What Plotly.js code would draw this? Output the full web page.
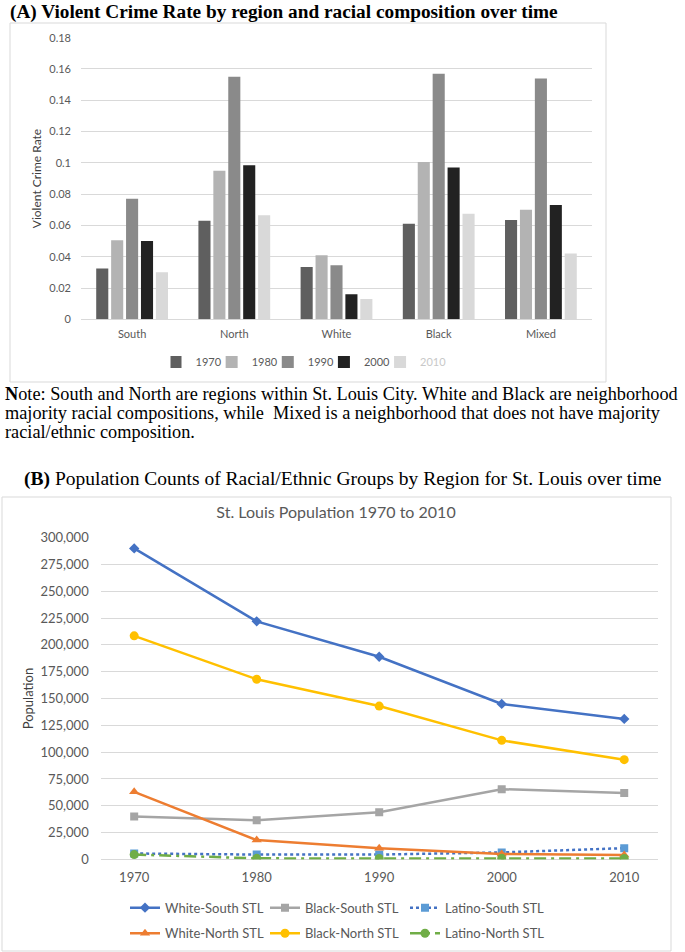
<!DOCTYPE html>
<html>
<head>
<meta charset="utf-8">
<script src="https://cdn.plot.ly/plotly-3.0.1.min.js"></script>
<style>html,body{margin:0;padding:0;background:#fff;}#chart{width:685px;height:952px;}</style>
</head>
<body>
<div id="chart"></div>
<script>
// ---- Panel A data ----
const regions = ['South', 'North', 'White', 'Black', 'Mixed'];
const barYears = ['1970', '1980', '1990', '2000', '2010'];
const rate1970 = [0.0325, 0.063, 0.0335, 0.061, 0.0635];
const rate1980 = [0.0505, 0.095, 0.041, 0.1005, 0.070];
const rate1990 = [0.077, 0.155, 0.0345, 0.157, 0.154];
const rate2000 = [0.050, 0.0985, 0.016, 0.097, 0.073];
const rate2010 = [0.030, 0.0665, 0.013, 0.0675, 0.042];

// ---- Panel B data ----
const censusYears = ['1970', '1980', '1990', '2000', '2010'];
const whiteSouth = [290000, 222000, 189000, 145000, 131000];
const blackSouth = [40000, 36500, 44000, 65500, 62000];
const latinoSouth = [5500, 4500, 4500, 6500, 10500];
const whiteNorth = [63000, 18000, 10500, 5000, 4000];
const blackNorth = [208500, 168000, 143000, 111000, 93000];
const latinoNorth = [4500, 1000, 800, 1000, 800];

const W = 685, H = 952;
const px = x => x / W;
const py = y => 1 - y / H;

const barColors = ['#5f5f5f', '#b3b3b3', '#8a8a8a', '#222222', '#d9d9d9'];
const rateSeries = [rate1970, rate1980, rate1990, rate2000, rate2010];

const traces = [];
rateSeries.forEach((vals, i) => {
  traces.push({
    type: 'bar', x: regions, y: vals,
    name: barYears[i] === '2010' ? '<span style="color:#c8c8c8">2010</span>' : barYears[i],
    marker: {color: barColors[i]},
    xaxis: 'x', yaxis: 'y', legend: 'legend'
  });
});

const lineDefs = [
  {name: 'White-South STL', y: whiteSouth, color: '#4472C4', mcolor: '#4472C4', symbol: 'diamond', size: 8, dash: 'solid', legend: 'legend2'},
  {name: 'Black-South STL', y: blackSouth, color: '#A5A5A5', mcolor: '#A5A5A5', symbol: 'square', size: 8, dash: 'solid', legend: 'legend2'},
  {name: 'Latino-South STL', y: latinoSouth, color: '#4472C4', mcolor: '#5B9BD5', symbol: 'square', size: 8, dash: 'dot', legend: 'legend2'},
  {name: 'White-North STL', y: whiteNorth, color: '#ED7D31', mcolor: '#ED7D31', symbol: 'triangle-up', size: 9, dash: 'solid', legend: 'legend3'},
  {name: 'Black-North STL', y: blackNorth, color: '#FFC000', mcolor: '#FFC000', symbol: 'circle', size: 9, dash: 'solid', legend: 'legend3'},
  {name: 'Latino-North STL', y: latinoNorth, color: '#70AD47', mcolor: '#70AD47', symbol: 'circle', size: 9, dash: '12px,5px,3px,5px', legend: 'legend3'}
];
lineDefs.forEach(d => {
  traces.push({
    type: 'scatter', mode: 'lines+markers', x: censusYears, y: d.y, name: d.name,
    line: {color: d.color, width: 2.5, dash: d.dash},
    marker: {color: d.mcolor, symbol: d.symbol, size: d.size},
    xaxis: 'x2', yaxis: 'y2', legend: d.legend
  });
});

const axisFont = {family: 'Lato, sans-serif', size: 11, color: '#595959'};
const axisFontB = {family: 'Lato, sans-serif', size: 13, color: '#595959'};
const serif = 'Liberation Serif, Times New Roman, serif';

const layout = {
  width: W, height: H,
  margin: {l: 0, r: 0, t: 0, b: 0},
  paper_bgcolor: '#ffffff', plot_bgcolor: 'rgba(0,0,0,0)',
  barmode: 'group', bargap: 0.27, bargroupgap: 0.19,
  showlegend: true,
  title: {
    text: 'St. Louis Population 1970 to 2010',
    x: px(336), xanchor: 'center', xref: 'paper',
    y: py(512), yanchor: 'middle', yref: 'paper',
    font: {family: 'Lato, sans-serif', size: 16, color: '#595959'}
  },
  xaxis: {
    domain: [px(81), px(592)], anchor: 'y', type: 'category',
    showgrid: false, zeroline: false, showline: false, ticks: '',
    tickfont: axisFont, ticklabelstandoff: 7, fixedrange: true
  },
  yaxis: {
    domain: [py(319.3), py(37.7)], anchor: 'x', range: [0, 0.18], dtick: 0.02,
    showgrid: true, gridcolor: '#d9d9d9', gridwidth: 1,
    zeroline: true, zerolinecolor: '#d9d9d9', zerolinewidth: 1,
    showline: false, ticks: '', tickfont: axisFont, ticklabelstandoff: 9,
    title: {text: 'Violent Crime Rate', font: {family: 'Lato, sans-serif', size: 12, color: '#404040'}, standoff: 5},
    fixedrange: true
  },
  xaxis2: {
    domain: [px(100.7), px(657.7)], anchor: 'y2', type: 'category',
    showgrid: false, zeroline: false, showline: false, ticks: '',
    tickfont: axisFontB, ticklabelstandoff: 9, fixedrange: true
  },
  yaxis2: {
    domain: [py(859.4), py(537.7)], anchor: 'x2', range: [0, 300000], dtick: 25000,
    tickformat: ',',
    showgrid: true, gridcolor: '#d9d9d9', gridwidth: 1,
    zeroline: true, zerolinecolor: '#d9d9d9', zerolinewidth: 1,
    showline: false, ticks: '', tickfont: axisFontB, ticklabelstandoff: 11,
    title: {text: 'Population', font: {family: 'Lato, sans-serif', size: 13, color: '#404040'}, standoff: 3},
    fixedrange: true
  },
  legend: {
    orientation: 'h', x: px(311), xanchor: 'center', y: py(362), yanchor: 'middle',
    font: axisFont, bgcolor: 'rgba(0,0,0,0)', itemwidth: 30, indentation: -15,
    traceorder: 'normal'
  },
  legend2: {
    orientation: 'h', x: px(125), xanchor: 'left', y: py(907.7), yanchor: 'middle',
    font: axisFontB, bgcolor: 'rgba(0,0,0,0)', entrywidth: 95, entrywidthmode: 'pixels',
    traceorder: 'normal'
  },
  legend3: {
    orientation: 'h', x: px(125), xanchor: 'left', y: py(933.3), yanchor: 'middle',
    font: axisFontB, bgcolor: 'rgba(0,0,0,0)', entrywidth: 95, entrywidthmode: 'pixels',
    traceorder: 'normal'
  },
  shapes: [
    {type: 'rect', xref: 'paper', yref: 'paper', x0: px(10), x1: px(606), y0: py(382), y1: py(23),
     line: {color: '#d9d9d9', width: 1}, fillcolor: 'rgba(0,0,0,0)', layer: 'below'},
    {type: 'rect', xref: 'paper', yref: 'paper', x0: px(2), x1: px(671), y0: py(951), y1: py(497),
     line: {color: '#d9d9d9', width: 1}, fillcolor: 'rgba(0,0,0,0)', layer: 'below'}
  ],
  annotations: [
    {text: '<b>(A) Violent Crime Rate by region and racial composition over time</b>',
     xref: 'paper', yref: 'paper', x: px(8), y: py(12), xanchor: 'left', yanchor: 'middle',
     showarrow: false, font: {family: serif, size: 19.3, color: '#000'}},
    {text: '<b>N</b>ote: South and North are regions within St. Louis City. White and Black are neighborhood',
     xref: 'paper', yref: 'paper', x: px(3), y: py(394), xanchor: 'left', yanchor: 'middle',
     showarrow: false, font: {family: serif, size: 18.3, color: '#000'}},
    {text: 'majority racial compositions, while  Mixed is a neighborhood that does not have majority',
     xref: 'paper', yref: 'paper', x: px(3), y: py(413), xanchor: 'left', yanchor: 'middle',
     showarrow: false, font: {family: serif, size: 18.3, color: '#000'}},
    {text: 'racial/ethnic composition.',
     xref: 'paper', yref: 'paper', x: px(3), y: py(432), xanchor: 'left', yanchor: 'middle',
     showarrow: false, font: {family: serif, size: 18.3, color: '#000'}},
    {text: '<b>(B)</b> Population Counts of Racial/Ethnic Groups by Region for St. Louis over time',
     xref: 'paper', yref: 'paper', x: px(22), y: py(479), xanchor: 'left', yanchor: 'middle',
     showarrow: false, font: {family: serif, size: 19.5, color: '#000'}}
  ]
};

Plotly.newPlot('chart', traces, layout, {staticPlot: true, displayModeBar: false});
</script>
</body>
</html>
